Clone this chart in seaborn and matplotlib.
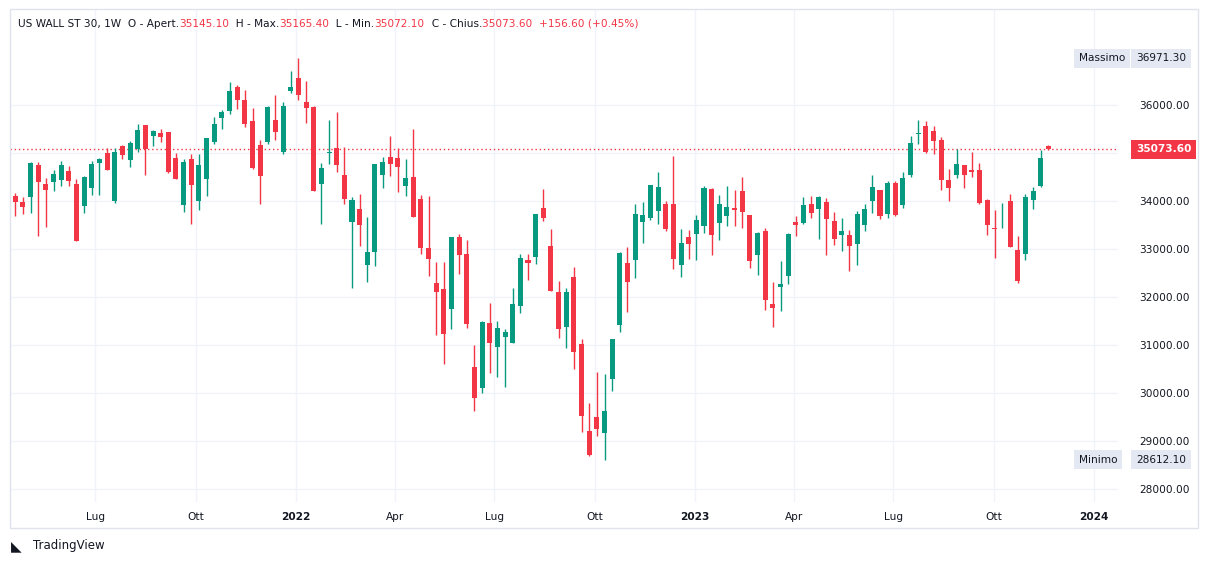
import numpy as np
import pandas as pd
import matplotlib
matplotlib.use("Agg")
import matplotlib.pyplot as plt
import matplotlib.dates as mdates
from matplotlib.patches import Rectangle
import seaborn as sns

start_week = "2021-04-19"
opens = [34104,33979,34090,34750,34354,34402,34444,34625,34354,33903,34278,34798,35000,34007,35146,34861,35090,35583,35354,35416,
         35437,34896,33923,34875,34007,34465,35236,35736,35882,36375,36104,35667,35167,35236,35688,35028,36299,36563,36063,35958,
         34361,35000,35104,34542,33570,33834,32674,32945,34549,34917,34896,34319,34500,34042,33028,32299,32174,31757,33250,32896,
         30542,30111,31465,30965,31167,31049,31820,32771,32840,33854,33062,32104,31382,32417,31021,29208,29500,29174,30299,31424,
         32708,32778,33569,33653,33799,33937,33937,32674,33250,33319,33486,34250,33549,33694,33854,34208,33708,32882,33375,31861,
         32215,32444,33562,33549,33937,33840,33979,33583,33299,33292,33111,33507,34007,34229,33736,34375,33924,34549,35396,35562,
         35458,35271,34437,34542,34750,34646,34646,34021,33437,33597,34000,32979,32903,34028,34312,35145.1]
highs = [34160,34083,34812,34812,34479,34646,34833,34729,34458,34521,34833,34896,35104,35104,35167,35250,35604,35583,35479,35500,
         35437,35000,34875,34979,34979,35313,35750,35896,36479,36417,36313,35938,35271,35979,36208,36063,36708,36971.3,36500,35979,
         34792,35688,35854,35125,34090,34146,33667,34771,34917,35354,35104,34875,35500,34125,34104,32736,32736,33250,33312,33194,
         31000,31507,31882,31507,31340,32194,32896,32896,33729,34250,33417,32333,32188,32625,31125,29792,30438,30396,31125,32938,
         33042,33937,33979,34333,34604,34000,34937,33417,33396,33708,34312,34271,34125,34312,34229,34500,33708,33354,33437,32313,
         32757,33333,33687,34083,34104,34104,34062,33771,33646,33396,33792,33937,34542,34229,34417,34417,34604,35354,35687,35667,
         35562,35333,34667,35083,34750,35021,34792,34042,33813,33958,34146,33271,34146,34292,35062,35165.4]
lows = [33694,33736,33757,33278,33465,34215,34319,34319,33173,33757,34132,34132,34653,33965,34882,34715,35028,34548,35153,35236,
        34583,34465,33777,33528,33819,34111,35194,35507,35820,35924,35549,34667,33945,35194,35278,34986,36257,36111,35632,34215,
        33528,34778,34611,33945,32195,33070,32319,32653,34278,34528,34194,34111,33674,32903,32444,31215,30611,31340,32486,31361,
        29632,30007,30424,30340,30132,31049,31674,32361,32694,33590,32132,31153,30944,30507,29195,28695,29111,28612.1,30049,31278,
        31695,32403,33132,33611,33528,33382,32590,32424,32799,32778,33340,32882,33194,33486,33486,33444,32611,32465,31736,31382,
        31715,32278,33278,33528,33646,33215,32882,33090,32965,32549,32674,33382,33757,33632,33653,33694,33861,34507,35187,35000,
        34979,34229,34000,34479,34271,34500,33937,33292,32819,33444,33049,32299,32778,33840,34292,35072.1]
closes = [33986,33882,34791,34402,34236,34562,34750,34423,33173,34500,34771,34875,34653,35021,34965,35208,35479,35090,35458,35333,
          34604,34465,34812,34340,34750,35313,35604,35854,36292,36111,35611,34688,34528,35958,35444,35979,36375,36215,35945,34215,
          34688,35028,34757,34049,34021,33507,32938,34771,34813,34778,34715,34479,33674,33028,32799,32111,31236,33250,32882,31445,
          29903,31486,31049,31354,31271,31854,32813,32715,33729,33653,32132,31340,32104,30861,29528,28715,29257,29625,31125,32917,
          32319,33729,33708,34333,34292,33424,32799,33125,33111,33604,34271,33299,33937,33875,33819,33778,32757,33333,31944,31778,
          32271,33312,33507,33917,33757,34083,33632,33215,33375,33069,33729,33833,34292,33694,34375,33715,34479,35208,35410,35021,
          35250,34437,34271,34771,34542,34604,33958,33500,33417,33611,33049,32340,34083,34208,34896,35073.6]
y_ticks = [28000, 29000, 30000, 31000, 32000, 33000, 34000, 35000, 36000]
x_tick_dates = ["2021-07-01", "2021-10-01", "2022-01-01", "2022-04-01", "2022-07-01", "2022-10-01",
                "2023-01-01", "2023-04-01", "2023-07-01", "2023-10-01", "2024-01-01"]
x_tick_labels = ["Lug", "Ott", "2022", "Apr", "Lug", "Ott", "2023", "Apr", "Lug", "Ott", "2024"]

GREEN = "#089981"
RED = "#F23645"
FS = 7.6

df = pd.DataFrame({"date": pd.date_range(start_week, periods=len(opens), freq="7D"),
                   "open": opens, "high": highs, "low": lows, "close": closes})
df["up"] = df["close"] >= df["open"]
df["color"] = np.where(df["up"], GREEN, RED)
df["x"] = mdates.date2num(df["date"])

sns.set_style("white")
fig = plt.figure(figsize=(12.09, 5.64), dpi=100)
W, H = 1209, 564
ax = fig.add_axes([10 / W, (H - 502) / H, (1118 - 10) / W, (502 - 9) / H])

x0 = df["x"].iloc[0]
ax.set_xlim(x0 - 0.69 * 7, x0 + 144.1 * 7)
ax.set_ylim(27729, 38000)

xt = mdates.date2num(pd.to_datetime(x_tick_dates))
for v in xt:
    ax.axvline(v, color="#f0f3fa", lw=1, zorder=0)
for v in y_ticks:
    ax.axhline(v, color="#f0f3fa", lw=1, zorder=0)

ax.vlines(df["x"], df["low"], df["high"], colors=df["color"], lw=1.0, zorder=2)
body_bottom = np.minimum(df["open"], df["close"])
body_h = np.maximum(np.abs(df["close"] - df["open"]), 12)
ax.bar(df["x"], body_h, bottom=body_bottom, width=4.6, color=df["color"], zorder=3, linewidth=0)

last = closes[-1]
ax.axhline(last, color=RED, lw=1, ls=(0, (1, 2)), zorder=1)

ax.set_xticks(xt)
ax.set_xticklabels(x_tick_labels)
for lab, t in zip(ax.get_xticklabels(), x_tick_labels):
    lab.set_fontsize(FS)
    lab.set_color("#131722")
    if t.isdigit():
        lab.set_fontweight("bold")
ax.tick_params(axis="x", length=0, pad=7)
ax.yaxis.tick_right()
ax.set_yticks(y_ticks)
# the 35000 label is hidden behind the last-price marker in the reference
ax.set_yticklabels(["" if abs(v - last) < 300 else f"{v:.2f}" for v in y_ticks], fontsize=FS, color="#131722")
ax.tick_params(axis="y", length=0, pad=15)
for s in ax.spines.values():
    s.set_visible(False)

fig.patches.append(Rectangle((10 / W, (H - 528) / H), (1198 - 10) / W, (528 - 9) / H,
                             transform=fig.transFigure, fill=False, ec="#e0e3eb", lw=1))

def price_label(y, text, fc, tc, side=None):
    ax.annotate(text, xy=(1.0, y), xycoords=("axes fraction", "data"), xytext=(13, 0),
                textcoords="offset points", va="center", ha="left", fontsize=FS, color=tc,
                fontweight="bold" if fc == RED else "normal", zorder=10, annotation_clip=False,
                bbox=dict(boxstyle="square,pad=0.45", fc=fc, ec="none"))
    if side:
        ax.annotate(side, xy=(1.0, y), xycoords=("axes fraction", "data"), xytext=(-28, 0),
                    textcoords="offset points", va="center", ha="left", fontsize=FS, color="#131722",
                    zorder=10, annotation_clip=False,
                    bbox=dict(boxstyle="square,pad=0.45", fc="#e3e8f3", ec="none"))

price_label(max(highs), f"{max(highs):.2f}", "#e3e8f3", "#131722", "Massimo")
price_label(min(lows), f"{min(lows):.2f}", "#e3e8f3", "#131722", "Minimo")
price_label(last, f"{last:.2f}", RED, "white")

pieces = [("US WALL ST 30, 1W  O - Apert.", "#131722"), (f"{opens[-1]:.2f}", RED),
          ("  H - Max.", "#131722"), (f"{highs[-1]:.2f}", RED),
          ("  L - Min.", "#131722"), (f"{lows[-1]:.2f}", RED),
          ("  C - Chius.", "#131722"), (f"{closes[-1]:.2f}  +156.60 (+0.45%)", RED)]
fig.canvas.draw()
r = fig.canvas.get_renderer()
xpix = 18
for txt, col in pieces:
    t = fig.text(xpix / W, 1 - 24 / H, txt, fontsize=FS, color=col, va="center", ha="left")
    xpix += t.get_window_extent(renderer=r).width

fig.text(11 / W, 1 - 546 / H, "\u25E3", fontsize=10, color="#131722", va="center", ha="left")
fig.text(33 / W, 1 - 546 / H, "TradingView", fontsize=8.5, color="#131722", va="center", ha="left")

fig.savefig("out.png", dpi=100)
